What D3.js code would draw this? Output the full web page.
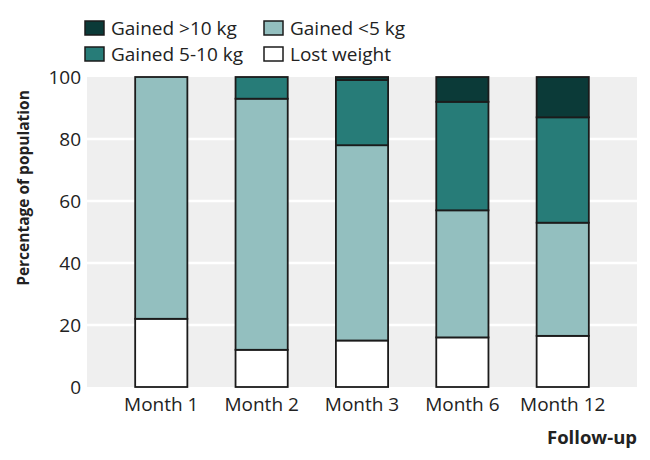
<!DOCTYPE html>
<html><head><meta charset="utf-8">
<script src="https://cdn.jsdelivr.net/npm/d3@7"></script>
<style>body{margin:0;background:#fff}svg{display:block}text{font-family:"Open Sans",Lato,sans-serif;fill:#222}</style>
</head><body><svg id="c" width="650" height="460"></svg>
<script>
const categories = ["Month 1","Month 2","Month 3","Month 6","Month 12"];
const lostWeight = [22, 12, 15, 16, 16.5];
const gainedLt5 = [78, 81, 63, 41, 36.5];
const gained5to10 = [0, 7, 21, 35, 34];
const gainedGt10 = [0, 0, 1, 8, 13];
const yTicks = [0, 20, 40, 60, 80, 100];
const seriesNames = ["Lost weight","Gained <5 kg","Gained 5-10 kg","Gained >10 kg"];
const legendOrder = ["Gained >10 kg","Gained <5 kg","Gained 5-10 kg","Lost weight"];
const colors = {"Lost weight":"#ffffff","Gained <5 kg":"#93bfbf","Gained 5-10 kg":"#277c78","Gained >10 kg":"#0b3a38"};

const svg = d3.select("#c");
const L = 87, R = 637, T = 77, B = 387;
const x = d3.scaleBand().domain(categories).range([L, R]).paddingInner(0.48).paddingOuter(0.48);
const y = d3.scaleLinear().domain([0, 100]).range([B, T]);

const rows = categories.map((c, i) => ({cat: c, "Lost weight": lostWeight[i], "Gained <5 kg": gainedLt5[i], "Gained 5-10 kg": gained5to10[i], "Gained >10 kg": gainedGt10[i]}));
const stack = d3.stack().keys(seriesNames)(rows);

svg.append("rect").attr("x", L).attr("y", T).attr("width", R - L).attr("height", B - T).attr("fill", "#efefef");
svg.append("g").selectAll("line").data(yTicks.filter(t => t > 0 && t < 100)).join("line")
  .attr("x1", L).attr("x2", R).attr("y1", d => y(d)).attr("y2", d => y(d))
  .attr("stroke", "#fff").attr("stroke-width", 2.5);

stack.forEach(s => {
  svg.append("g").selectAll("rect").data(s.filter(d => d[1] - d[0] > 0)).join("rect")
    .attr("x", d => x(d.data.cat)).attr("width", x.bandwidth())
    .attr("y", d => y(d[1])).attr("height", d => y(d[0]) - y(d[1]))
    .attr("fill", colors[s.key]).attr("stroke", "#1b1b1b").attr("stroke-width", 1.8);
});

const ya = d3.axisLeft(y).tickValues(yTicks).tickSize(0).tickPadding(6);
const gy = svg.append("g").attr("transform", `translate(${L},0)`).call(ya);
gy.select(".domain").remove();
gy.selectAll("text").attr("font-size", 19).attr("fill", "#333").attr("font-family", '"Open Sans",sans-serif');

const xa = d3.axisBottom(x).tickSize(0).tickPadding(11);
const gx = svg.append("g").attr("transform", `translate(0,${B})`).call(xa);
gx.select(".domain").remove();
gx.selectAll("text").attr("font-size", 19).attr("fill", "#333").attr("font-family", '"Open Sans",sans-serif');

svg.append("text").attr("transform", `translate(29,188) rotate(-90)`).attr("text-anchor", "middle")
  .attr("font-size", 15.5).attr("font-weight", "bold").attr("fill", "#1a1a1a").text("Percentage of population");
svg.append("text").attr("x", R).attr("y", 444).attr("text-anchor", "end")
  .attr("font-size", 18.5).attr("font-weight", "bold").attr("fill", "#1a1a1a").text("Follow-up");

const legPos = [[85, 21], [264, 21], [85, 47], [264, 47]];
legendOrder.forEach((k, i) => {
  const g = svg.append("g").attr("transform", `translate(${legPos[i][0]},${legPos[i][1]})`);
  g.append("rect").attr("x", 0).attr("y", 0).attr("width", 19).attr("height", 14).attr("fill", colors[k]).attr("stroke", "#1b1b1b").attr("stroke-width", 1.5);
  g.append("text").attr("x", 26).attr("y", 14).attr("font-size", 19).attr("fill", "#333").text(k);
});
</script></body></html>
